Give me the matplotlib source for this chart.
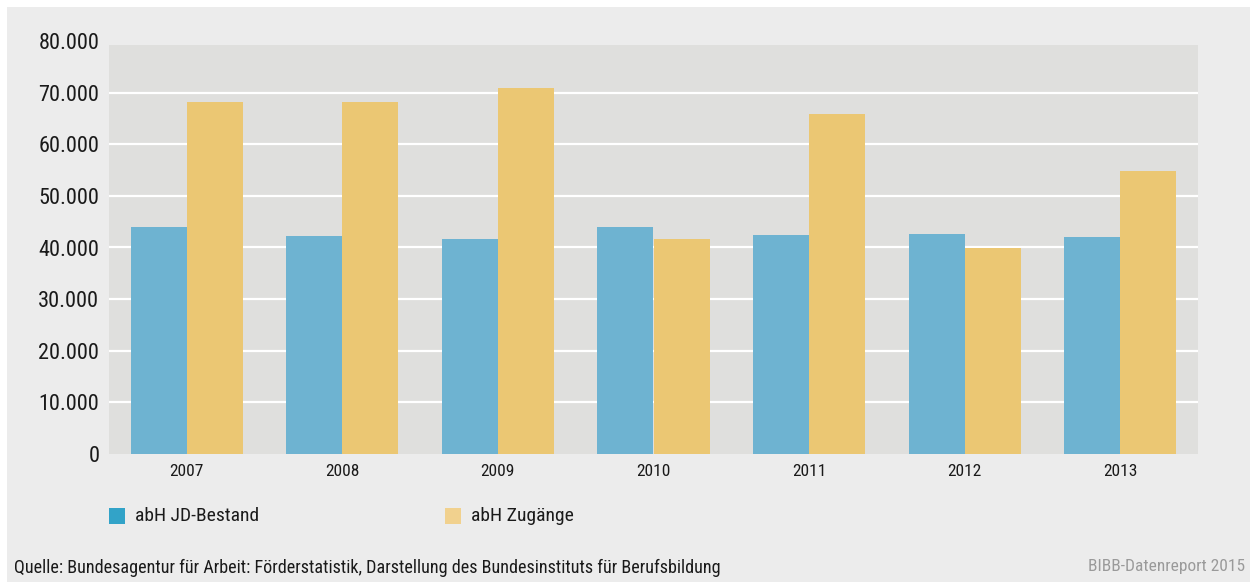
import matplotlib
matplotlib.use('Agg')
import matplotlib.pyplot as plt
from matplotlib.patches import Rectangle
from matplotlib.ticker import FuncFormatter
import numpy as np

# ---------------------------------------------------------------------------
# Data
# ---------------------------------------------------------------------------

years = ['2007', '2008', '2009', '2010', '2011', '2012', '2013']
bestand = [44000, 42300, 41700, 44000, 42400, 42600, 42000]
zugaenge = [68200, 68200, 70900, 41700, 65900, 39900, 54800]
series_labels = ['abH JD-Bestand', 'abH Zugänge']

y_ticks = [0, 10000, 20000, 30000, 40000, 50000, 60000, 70000, 80000]

source = ('Quelle: Bundesagentur für Arbeit: Förderstatistik, '
          'Darstellung des Bundesinstituts für Berufsbildung')
credit = 'BIBB-Datenreport 2015'

# ---------------------------------------------------------------------------
# Style
# ---------------------------------------------------------------------------

plt.rcParams['font.family'] = ['Roboto Condensed', 'DejaVu Sans']

BG_OUTER = '#ececec'
BG_PLOT = '#dfdfdd'
C_BLUE = '#6eb3d1'
C_YELLOW = '#ebc773'
C_BLUE_LEG = '#32a3c8'
C_YELLOW_LEG = '#f1d18e'
TEXT = '#1a1a1a'

W, H = 1250, 582
fig = plt.figure(figsize=(W / 100, H / 100), dpi=100, facecolor='white')

# grey card with a thin white margin at top and left
fig.add_artist(Rectangle((7 / W, 0), 1 - 7 / W, 1 - 7 / H,
                         transform=fig.transFigure, facecolor=BG_OUTER,
                         edgecolor='none', zorder=-10))

ax = fig.add_axes([109 / W, 1 - 454 / H, (1198 - 109) / W, (454 - 41) / H])
ax.patch.set_visible(False)

x = np.arange(len(years))
bw = 0.36
ax.set_xlim(-0.5, len(years) - 0.5)
ax.set_ylim(0, 80000)

# plot background stops a little below the 80.000 line
ax.axhspan(0, 79250, color=BG_PLOT, zorder=0, lw=0)
for yv in y_ticks[1:-1]:
    ax.axhline(yv, color='white', linewidth=1.6, zorder=1)

ax.bar(x - bw / 2, bestand, width=bw, color=C_BLUE, zorder=2, linewidth=0)
ax.bar(x + bw / 2, zugaenge, width=bw, color=C_YELLOW, zorder=2, linewidth=0)

ax.set_yticks(y_ticks)
ax.yaxis.set_major_formatter(FuncFormatter(
    lambda v, p: '0' if v == 0 else f'{int(v):,}'.replace(',', '.')))
ax.set_xticks(x)
ax.set_xticklabels(years)
ax.tick_params(axis='y', length=0, pad=7, labelsize=16, labelcolor=TEXT)
ax.tick_params(axis='x', length=0, pad=7, labelsize=12.5, labelcolor=TEXT)
for s in ax.spines.values():
    s.set_visible(False)

# legend, drawn by hand to match the spacing of the reference
leg_x = [109, 445]
leg_c = [C_BLUE_LEG, C_YELLOW_LEG]
for lx, lc, lab in zip(leg_x, leg_c, series_labels):
    fig.add_artist(Rectangle((lx / W, 1 - 524 / H), 16 / W, 16 / H,
                             transform=fig.transFigure, facecolor=lc,
                             edgecolor='none'))
    fig.text((lx + 26) / W, 1 - 516 / H, lab, fontsize=14, color=TEXT,
             va='center', ha='left')

fig.text(14 / W, 1 - 568 / H, source, fontsize=13.1, color=TEXT,
         va='center', ha='left')
fig.text(1245 / W, 1 - 567 / H, credit, fontsize=12.5, color='#9a9a9a',
         va='center', ha='right')

fig.savefig('out.png', dpi=100, facecolor=fig.get_facecolor())
